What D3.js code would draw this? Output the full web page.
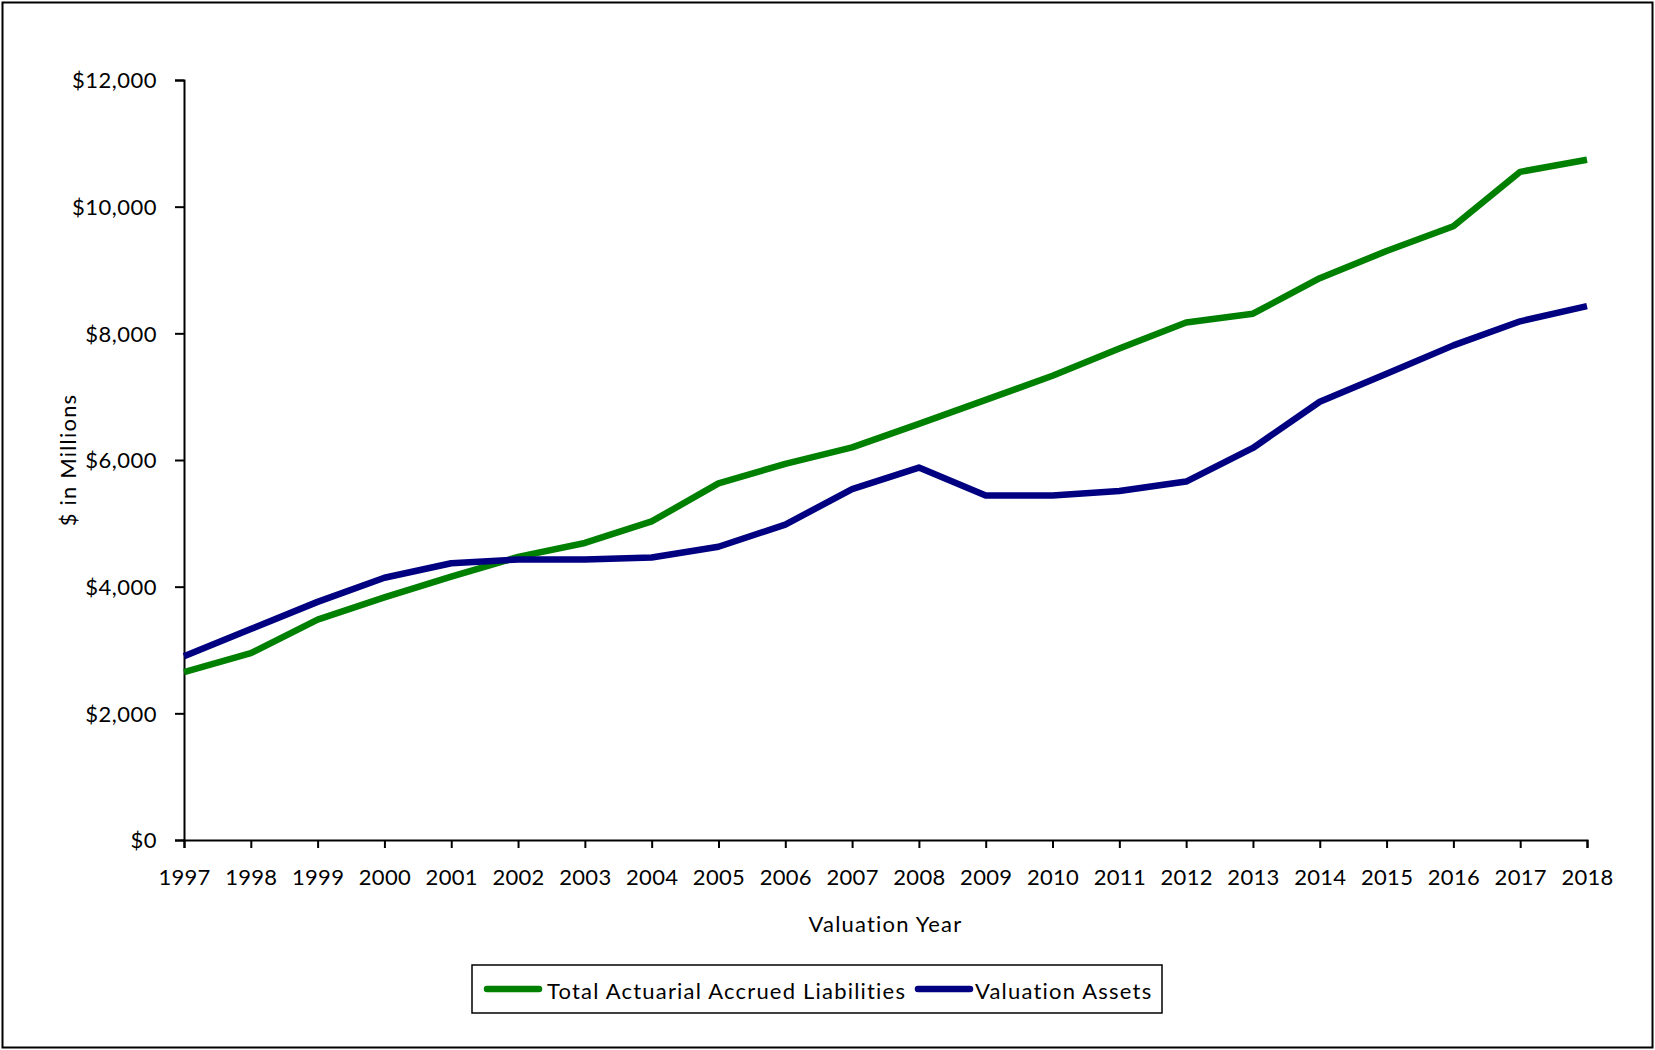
<!DOCTYPE html>
<html>
<head>
<meta charset="utf-8">
<script src="https://cdn.jsdelivr.net/npm/d3@7"></script>
<style>
  html, body { margin: 0; padding: 0; background: #fff; }
  svg { display: block; }
  text { font-family: Lato, "Open Sans", sans-serif; fill: #000; }
</style>
</head>
<body>
<svg id="chart" width="1655" height="1050"></svg>
<script>
const years = [1997,1998,1999,2000,2001,2002,2003,2004,2005,2006,2007,2008,2009,2010,2011,2012,2013,2014,2015,2016,2017,2018];
const liabilities = [2650,2950,3480,3830,4160,4470,4690,5030,5630,5940,6200,6570,6950,7330,7760,8170,8310,8870,9300,9690,10550,10740];
const assets = [2900,3330,3760,4140,4370,4430,4430,4460,4630,4980,5540,5880,5440,5440,5510,5660,6190,6920,7360,7810,8190,8430];
const yTicks = [0,2000,4000,6000,8000,10000,12000];
const seriesNames = ["Total Actuarial Accrued Liabilities", "Valuation Assets"];
const seriesColors = ["#008000", "#000080"];

(function () {
const svg = d3.select("#chart");
const W = 1655, H = 1050;
const pLeft = 184, pRight = 1587, pTop = 80, pBottom = 840;

svg.append("rect").attr("x", 2.5).attr("y", 2.5).attr("width", W - 5).attr("height", H - 5)
  .attr("fill", "#fff").attr("stroke", "#000").attr("stroke-width", 2);

const x = d3.scaleLinear().domain([1997, 2018]).range([pLeft, pRight]);
const y = d3.scaleLinear().domain([0, 12000]).range([pBottom, pTop]);

const fmt = v => "$" + d3.format(",")(v);

const yAxis = svg.append("g").attr("transform", `translate(${pLeft},0)`)
  .call(d3.axisLeft(y).tickValues(yTicks).tickFormat(fmt).tickSize(9).tickPadding(18));
yAxis.selectAll("text").style("font-size", "22px").style("letter-spacing", "0.5px").attr("dy", "0.35em");

const xAxis = svg.append("g").attr("transform", `translate(0,${pBottom})`)
  .call(d3.axisBottom(x).tickValues(years).tickFormat(d3.format("d")).tickSize(8).tickPadding(21));
xAxis.selectAll("text").style("font-size", "22px").style("letter-spacing", "0.3px");

[yAxis, xAxis].forEach(a => {
  a.select(".domain").attr("stroke", "#000").attr("stroke-width", 2);
  a.selectAll(".tick line").attr("stroke", "#000").attr("stroke-width", 2);
});

const line = d3.line().x((d, i) => x(years[i])).y(d => y(d));
[liabilities, assets].forEach((s, k) => {
  svg.append("path").datum(s).attr("d", line)
    .attr("fill", "none").attr("stroke", seriesColors[k]).attr("stroke-width", 6.5)
    .attr("stroke-linejoin", "round").attr("stroke-linecap", "butt");
});

svg.append("text").attr("transform", "translate(76,460) rotate(-90)")
  .attr("text-anchor", "middle").style("font-size", "22px").style("letter-spacing", "1.2px")
  .text("$ in Millions");

svg.append("text").attr("x", (pLeft + pRight) / 2).attr("y", 932)
  .attr("text-anchor", "middle").style("font-size", "22px").style("letter-spacing", "1.2px")
  .text("Valuation Year");

// legend
const lg = svg.append("g");
lg.append("rect").attr("x", 472).attr("y", 965).attr("width", 690).attr("height", 48)
  .attr("fill", "#fff").attr("stroke", "#000").attr("stroke-width", 1.5);
const legendItems = [{x0: 487, x1: 539, tx: 547}, {x0: 918, x1: 970, tx: 975}];
legendItems.forEach((it, k) => {
  lg.append("line").attr("x1", it.x0).attr("x2", it.x1).attr("y1", 989).attr("y2", 989)
    .attr("stroke", seriesColors[k]).attr("stroke-width", 6.5).attr("stroke-linecap", "round");
  lg.append("text").attr("x", it.tx).attr("y", 999).style("font-size", "22px")
    .style("letter-spacing", "1.2px").text(seriesNames[k]);
});
})();
</script>
</body>
</html>
